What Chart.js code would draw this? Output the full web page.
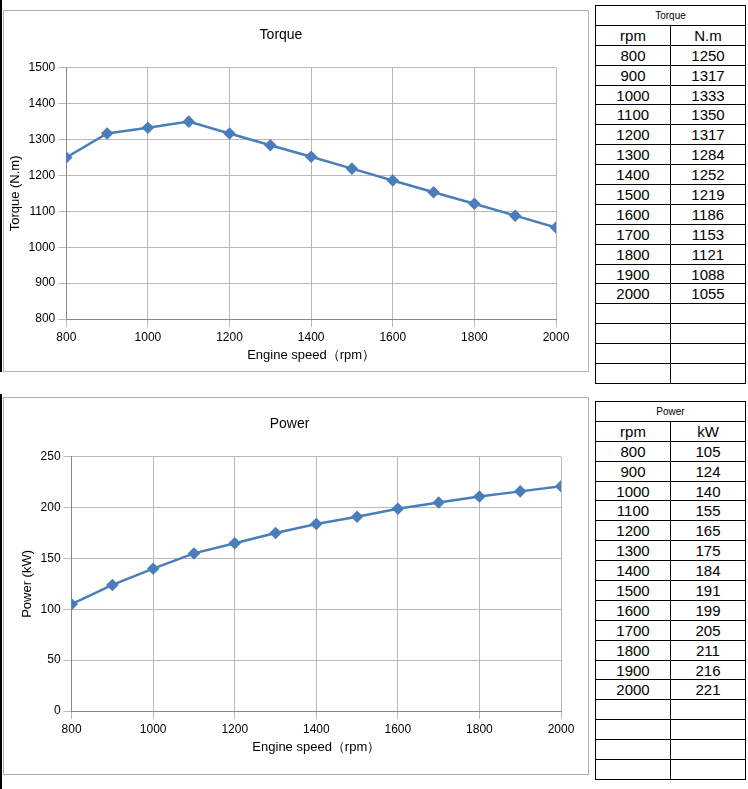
<!DOCTYPE html>
<html><head><meta charset="utf-8">
<script src="https://cdn.jsdelivr.net/npm/chart.js@4"></script>
<style>
body{margin:0;background:#fff;font-family:"Liberation Sans",Arial,sans-serif;}
.box{position:absolute;border:1px solid #b0b0b0;background:#fff;}
.edge{position:absolute;left:0;width:2px;background:#000;}
table{position:absolute;border-collapse:collapse;width:151px;table-layout:fixed;}
td{border:1px solid #000;height:18.9px;padding:0;text-align:center;font-size:15px;line-height:15px;width:50%;}
td.t{font-size:10px;}
</style></head><body>
<div class="edge" style="top:0;height:372px"></div>
<div class="edge" style="top:394px;height:395px"></div>
<div class="box" style="left:3px;top:10px;width:584px;height:360px"><canvas id="c1" width="584" height="360"></canvas></div>
<div class="box" style="left:3px;top:397px;width:584px;height:376px"><canvas id="c2" width="584" height="376"></canvas></div>
<table id="t1" style="left:595px;top:5px"></table>
<table id="t2" style="left:595px;top:401px"></table>
<script>
// ===== DATA =====
const rpm = [800, 900, 1000, 1100, 1200, 1300, 1400, 1500, 1600, 1700, 1800, 1900, 2000];
const torque = [1250, 1317, 1333, 1350, 1317, 1284, 1252, 1219, 1186, 1153, 1121, 1088, 1055];
const power = [105, 124, 140, 155, 165, 175, 184, 191, 199, 205, 211, 216, 221];

// ===== TABLES =====
function fillTable(id, title, unit, vals) {
  let html = '<tr><td class="t" colspan="2">' + title + '</td></tr>';
  html += '<tr><td>rpm</td><td>' + unit + '</td></tr>';
  rpm.forEach((r, i) => { html += '<tr><td>' + r + '</td><td>' + vals[i] + '</td></tr>'; });
  for (let i = 0; i < 4; i++) html += '<tr><td></td><td></td></tr>';
  document.getElementById(id).innerHTML = html;
}
fillTable("t1", "Torque", "N.m", torque);
fillTable("t2", "Power", "kW", power);

// ===== CHARTS =====
function makeChart(id, title, yTitle, vals, ymin, ymax, step, pad) {
  new Chart(document.getElementById(id), {
    type: "line",
    data: {
      datasets: [{
        data: rpm.map((r, i) => ({ x: r, y: vals[i] })),
        borderColor: "#4a7ebb",
        backgroundColor: "#4a7ebb",
        borderWidth: 2.5,
        pointStyle: "rectRot",
        pointRadius: 4.5,
        tension: 0
      }]
    },
    options: {
      responsive: false,
      animation: false,
      layout: { padding: pad },
      plugins: {
        legend: { display: false },
        title: { display: true, text: title, color: "#000", font: { size: 14, weight: "normal" }, padding: { top: 0, bottom: 24 } }
      },
      scales: {
        x: {
          type: "linear", min: 800, max: 2000,
          ticks: { stepSize: 200, color: "#000", font: { size: 12 }, callback: v => String(v) },
          grid: { color: "#b8b8b8" }, border: { color: "#888" },
          title: { display: true, text: "Engine speed（rpm）", color: "#000", font: { size: 13 }, padding: 0 }
        },
        y: {
          min: ymin, max: ymax,
          ticks: { stepSize: step, color: "#000", font: { size: 12 }, callback: v => String(v) },
          grid: { color: "#b8b8b8" }, border: { color: "#888" },
          title: { display: true, text: yTitle, color: "#000", font: { size: 13 }, padding: 2 }
        }
      }
    }
  });
}
makeChart("c1", "Torque", "Torque (N.m)", torque, 800, 1500, 100, { top: 16, right: 32, bottom: 8, left: 2 });
makeChart("c2", "Power", "Power (kW)", power, 0, 250, 50, { top: 18, right: 27, bottom: 19, left: 14 });
</script>
</body></html>
